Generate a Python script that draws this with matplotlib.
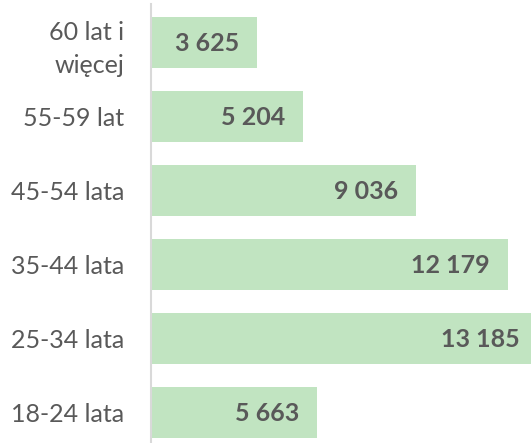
import matplotlib
matplotlib.use("Agg")
import matplotlib.pyplot as plt

categories = ["18-24 lata", "25-34 lata", "35-44 lata", "45-54 lata", "55-59 lat", "60 lat i\nwięcej"]
values = [5663, 13185, 12179, 9036, 5204, 3625]
value_labels = ["5 663", "13 185", "12 179", "9 036", "5 204", "3 625"]

W, H = 531, 443
fig = plt.figure(figsize=(W / 100, H / 100), dpi=100)
fig.patch.set_facecolor("white")

left_px, top_px = 151, 4
ax_w_px = 14000 * 0.0293
ax_h_px = 447
ax = fig.add_axes([left_px / W, (H - top_px - ax_h_px) / H, ax_w_px / W, ax_h_px / H])

TXT = "#595959"
FONT = "Lato"
pos = list(range(len(categories)))
ax.barh(pos, values, height=0.69, color="#C1E4C1", zorder=2)
ax.set_xlim(0, 14000)
ax.set_ylim(-0.52, 5.52)

for s in ["top", "right", "bottom"]:
    ax.spines[s].set_visible(False)
ax.spines["left"].set_color("#D9D9D9")
ax.spines["left"].set_linewidth(1.5)
ax.set_xticks([])
ax.set_yticks(pos)
ax.set_yticklabels(categories, fontsize=18, color=TXT, family=FONT, linespacing=1.5)
ax.tick_params(axis="y", length=0, pad=19.5)

for p, v, lab in zip(pos, values, value_labels):
    ax.annotate(lab, xy=(v, p), xytext=(-18, -1), textcoords="offset pixels",
                ha="right", va="center", fontsize=18, fontweight="bold",
                color=TXT, family=FONT)

fig.savefig("out.png", dpi=100)
